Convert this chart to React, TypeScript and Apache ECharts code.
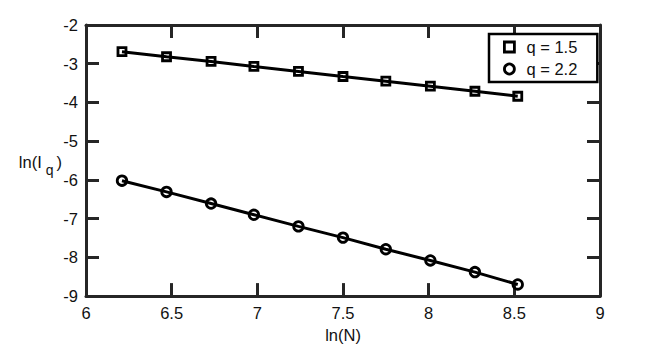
import React, { useEffect, useRef } from "react";
import * as echarts from "echarts";

const lnN = [6.21, 6.47, 6.73, 6.98, 7.24, 7.50, 7.75, 8.01, 8.27, 8.52];
const q15 = [-2.69, -2.82, -2.94, -3.07, -3.20, -3.33, -3.45, -3.58, -3.71, -3.84];
const q22 = [-6.02, -6.31, -6.61, -6.90, -7.20, -7.49, -7.79, -8.08, -8.38, -8.70];
const seriesNames = ["q = 1.5", "q = 2.2"];

const FONT = "'Liberation Sans', Arial, Helvetica, sans-serif";
const AX = "#262626";
const FS = 16.5;

export default function App() {
  const ref = useRef<HTMLDivElement>(null);
  useEffect(() => {
    if (!ref.current) return;
    const chart = echarts.init(ref.current, undefined, { renderer: "svg" });
    const axisCommon = {
      axisLine: { show: true, lineStyle: { color: AX, width: 3 } },
      axisTick: { show: true, inside: true, length: 13, lineStyle: { color: AX, width: 3 } },
      splitLine: { show: false },
    };
    chart.setOption({
      animation: false,
      backgroundColor: "#fff",
      grid: { left: 86, right: 64, top: 25, bottom: 49, containLabel: false },
      xAxis: [
        {
          type: "value", min: 6, max: 9, interval: 0.5, position: "bottom",
          ...axisCommon,
          axisLabel: { color: "#111", fontSize: FS, fontFamily: FONT, margin: 8 },
          name: "ln(N)", nameLocation: "middle", nameGap: 28,
          nameTextStyle: { color: "#111", fontSize: FS, fontFamily: FONT },
        },
        {
          type: "value", min: 6, max: 9, interval: 0.5, position: "top",
          ...axisCommon,
          axisLabel: { show: false },
        },
      ],
      yAxis: [
        {
          type: "value", min: -9, max: -2, interval: 1, position: "left",
          ...axisCommon,
          axisLabel: { color: "#111", fontSize: FS, fontFamily: FONT, margin: 8 },
        },
        {
          type: "value", min: -9, max: -2, interval: 1, position: "right",
          ...axisCommon,
          axisLabel: { show: false },
        },
      ],
      legend: {
        orient: "vertical",
        left: 489,
        top: 34,
        padding: [4, 20, 4, 14],
        itemWidth: 10,
        itemHeight: 10,
        itemGap: 4,
        borderColor: "#000",
        borderWidth: 2.5,
        backgroundColor: "#fff",
        itemStyle: { color: "rgba(0,0,0,0)", borderColor: "#000", borderWidth: 2.8 },
        textStyle: { color: "#111", fontSize: FS, fontFamily: FONT, lineHeight: 18, padding: [0, 0, 0, 7] },
        data: [
          { name: seriesNames[0], icon: "rect" },
          { name: seriesNames[1], icon: "circle" },
        ],
      },
      graphic: [
        {
          type: "text",
          x: 62,
          y: 162,
          style: {
            text: "{a|ln(I}{s|q}{a|)}",
            align: "right",
            verticalAlign: "middle",
            rich: {
              a: { fontSize: FS, fontFamily: FONT, fill: "#111" },
              s: { fontSize: 14, fontFamily: FONT, fill: "#111", padding: [15, 3, 0, 4] },
            },
          },
        },
      ],
      series: [
        {
          name: seriesNames[0],
          type: "line",
          data: lnN.map((x, i) => [x, q15[i]]),
          symbol: "rect",
          symbolSize: 8,
          showAllSymbol: true,
          lineStyle: { color: "#000", width: 3 },
          itemStyle: { color: "rgba(0,0,0,0)", borderColor: "#000", borderWidth: 2.8 },
        },
        {
          name: seriesNames[1],
          type: "line",
          data: lnN.map((x, i) => [x, q22[i]]),
          symbol: "circle",
          symbolSize: 9.5,
          showAllSymbol: true,
          lineStyle: { color: "#000", width: 3 },
          itemStyle: { color: "rgba(0,0,0,0)", borderColor: "#000", borderWidth: 2.8 },
        },
      ],
    });
    return () => chart.dispose();
  }, []);
  return (
    <div
      ref={ref}
      style={{ position: "fixed", left: 0, top: 0, width: 664, height: 348, background: "#fff" }}
    />
  );
}
